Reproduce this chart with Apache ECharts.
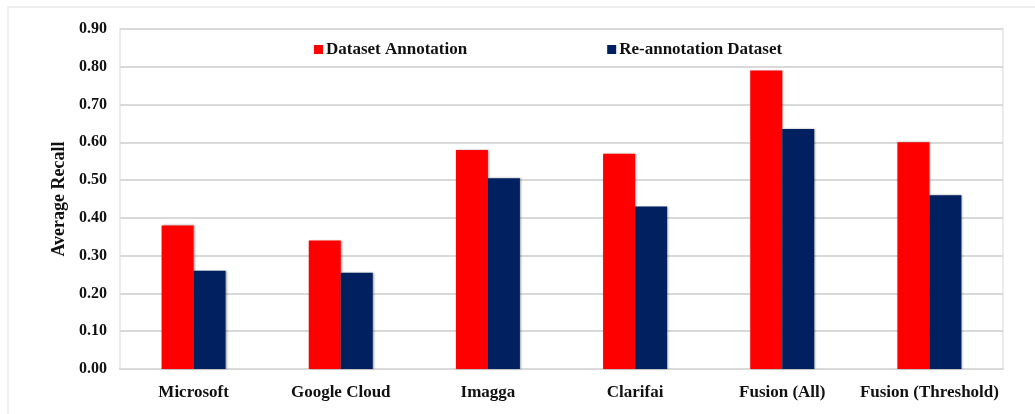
<!DOCTYPE html>
<html>
<head>
<meta charset="utf-8">
<script src="https://cdn.jsdelivr.net/npm/echarts@6/dist/echarts.min.js"></script>
<style>
html,body{margin:0;padding:0;background:#fff;}
#chart{width:1035px;height:414px;}
</style>
</head>
<body>
<div id="chart"></div>
<script>
const categories = ['Microsoft', 'Google Cloud', 'Imagga', 'Clarifai', 'Fusion (All)', 'Fusion (Threshold)'];
const datasetAnnotation = [0.38, 0.34, 0.58, 0.57, 0.79, 0.60];
const reannotationDataset = [0.26, 0.255, 0.505, 0.43, 0.635, 0.46];
const seriesNames = ['Dataset Annotation', 'Re-annotation Dataset'];
const yTicks = { min: 0, max: 0.9, interval: 0.1 };

const font = '"Liberation Serif", "Times New Roman", serif';
const chart = echarts.init(document.getElementById('chart'));
const barStyle = (c) => ({
  color: c,
  shadowColor: 'rgba(0,0,0,0.35)',
  shadowBlur: 2,
  shadowOffsetX: 1,
  shadowOffsetY: 0
});
chart.setOption({
  animation: false,
  backgroundColor: '#fff',
  graphic: [{
    type: 'rect',
    shape: { x: 8, y: 7, width: 1040, height: 420 },
    style: { fill: 'none', stroke: '#ececec', lineWidth: 1.5 },
    silent: true
  }],
  grid: {
    left: 120, right: 32, top: 29, bottom: 45,
    show: true, borderColor: '#ececec', borderWidth: 2, backgroundColor: 'transparent'
  },
  legend: {
    top: 36, left: 309,
    itemWidth: 9, itemHeight: 9, itemGap: 140,
    icon: 'rect',
    textStyle: { fontFamily: font, fontWeight: 'bold', fontSize: 17, color: '#111', padding: [0, 0, 0, -2] },
    data: seriesNames
  },
  xAxis: {
    type: 'category',
    data: categories,
    axisLine: { show: true, lineStyle: { color: '#d9d9d9', width: 2 } },
    axisTick: { show: false },
    axisLabel: { interval: 0, fontFamily: font, fontWeight: 'bold', fontSize: 17, color: '#111', margin: 15 }
  },
  yAxis: {
    type: 'value',
    min: yTicks.min, max: yTicks.max, interval: yTicks.interval,
    name: 'Average Recall',
    nameLocation: 'middle',
    nameGap: 46,
    nameTextStyle: { fontFamily: font, fontWeight: 'bold', fontSize: 18, color: '#111' },
    axisLine: { show: false },
    axisTick: { show: false },
    splitLine: { lineStyle: { color: '#d9d9d9', width: 2 } },
    axisLabel: {
      fontFamily: font, fontWeight: 'bold', fontSize: 16, color: '#111', margin: 13,
      formatter: v => v.toFixed(2)
    }
  },
  series: [
    { name: seriesNames[0], type: 'bar', data: datasetAnnotation, barWidth: 32, barGap: '0%', itemStyle: barStyle('#ff0000') },
    { name: seriesNames[1], type: 'bar', data: reannotationDataset, barWidth: 32, barGap: '0%', itemStyle: barStyle('#002060') }
  ]
});
</script>
</body>
</html>
